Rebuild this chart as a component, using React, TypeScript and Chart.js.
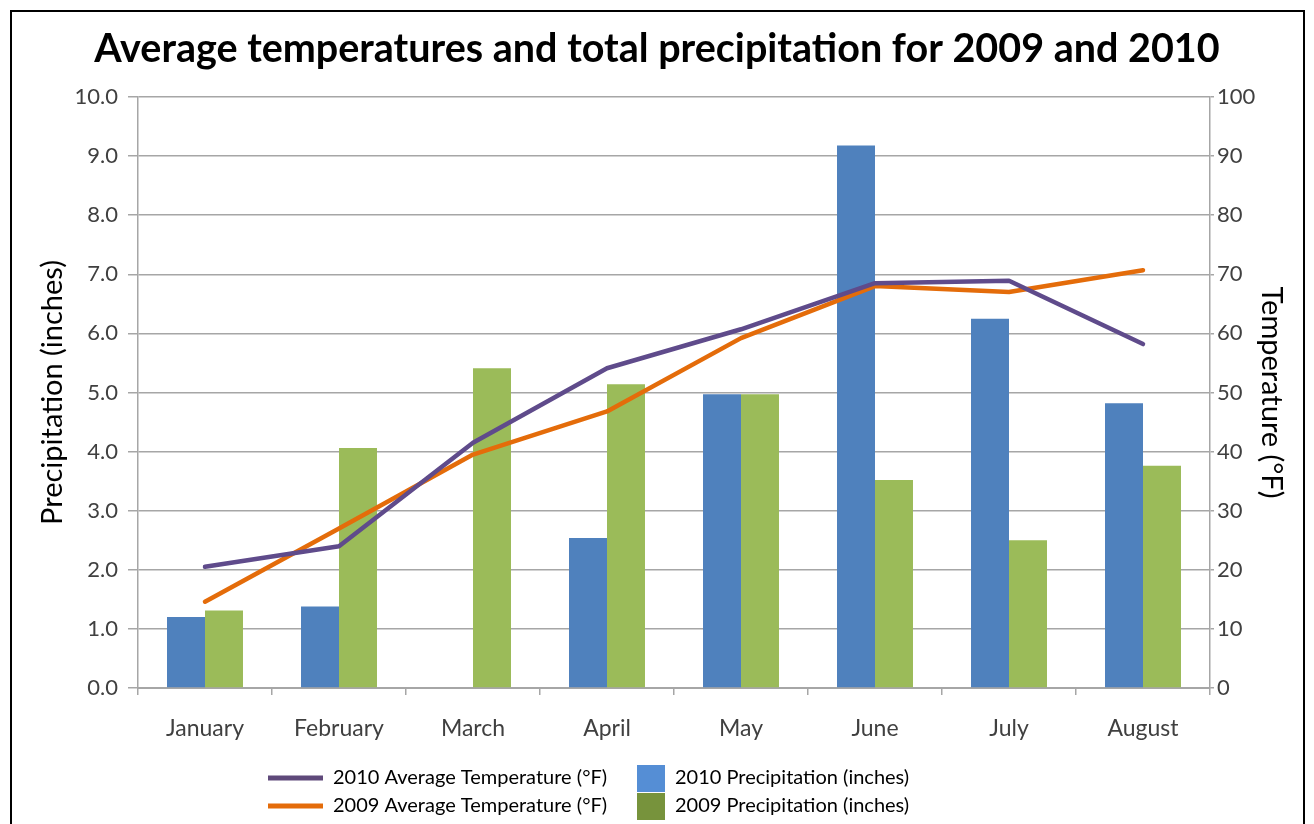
import { useEffect, useRef } from 'react';
import Chart from 'chart.js/auto';

// Months shown on the category axis
const months = ['January', 'February', 'March', 'April', 'May', 'June', 'July', 'August'];

// Total precipitation (inches), left axis
const precip2010: (number | null)[] = [1.2, 1.38, null, 2.54, 4.97, 9.18, 6.25, 4.82];
const precip2009 = [1.31, 4.06, 5.41, 5.14, 4.97, 3.52, 2.5, 3.76];

// Average temperature (°F), right axis
const temp2010 = [20.5, 24.0, 41.5, 54.1, 60.7, 68.5, 68.9, 58.2];
const temp2009 = [14.6, 27.0, 39.5, 46.8, 59.2, 68.0, 67.0, 70.7];

// Axis ranges and tick steps
const precipTicks = { min: 0, max: 10, step: 1 };
const tempTicks = { min: 0, max: 100, step: 10 };

const FONT = 'Lato';
const GRID = '#a6a6a6';

// Legend swatches: two line entries on the left column, two boxes on the right
const legendEntries = [
  { label: '2010 Average Temperature (°F)', kind: 'line', color: '#5f497a' },
  { label: '2009 Average Temperature (°F)', kind: 'line', color: '#e46c0a' },
  { label: '2010 Precipitation (inches)', kind: 'box', color: '#558ed5' },
  { label: '2009 Precipitation (inches)', kind: 'box', color: '#77933c' },
];

const legendPlugin = {
  id: 'twoColumnLegend',
  afterDraw(chart: Chart) {
    const ctx = chart.ctx;
    ctx.save();
    ctx.font = `20px ${FONT}`;
    ctx.textBaseline = 'middle';
    ctx.textAlign = 'left';
    const rows = [778, 806];
    legendEntries.forEach((e, i) => {
      const row = rows[i % 2];
      if (e.kind === 'line') {
        ctx.strokeStyle = e.color;
        ctx.lineWidth = 5;
        ctx.beginPath();
        ctx.moveTo(268, row);
        ctx.lineTo(323, row);
        ctx.stroke();
        ctx.fillStyle = '#000';
        ctx.fillText(e.label, 333, row);
      } else {
        ctx.fillStyle = e.color;
        ctx.fillRect(637, row - 13, 28, 27);
        ctx.fillStyle = '#000';
        ctx.fillText(e.label, 675, row);
      }
    });
    ctx.restore();
  },
};

export default function App() {
  const canvasRef = useRef<HTMLCanvasElement>(null);

  useEffect(() => {
    const canvas = canvasRef.current;
    if (!canvas) return;
    const chart = new Chart(canvas, {
      type: 'bar',
      data: {
        labels: months,
        datasets: [
          {
            type: 'line',
            label: '2010 Average Temperature (°F)',
            data: temp2010,
            yAxisID: 'y1',
            borderColor: '#5f4b8b',
            borderWidth: 4.5,
            pointRadius: 0,
            tension: 0,
            borderCapStyle: 'round',
            borderJoinStyle: 'round',
            order: 0,
          },
          {
            type: 'line',
            label: '2009 Average Temperature (°F)',
            data: temp2009,
            yAxisID: 'y1',
            borderColor: '#e46c0a',
            borderWidth: 4.5,
            pointRadius: 0,
            tension: 0,
            borderCapStyle: 'round',
            borderJoinStyle: 'round',
            order: 0,
          },
          {
            type: 'bar',
            label: '2010 Precipitation (inches)',
            data: precip2010,
            yAxisID: 'y',
            backgroundColor: '#4f81bd',
            barPercentage: 1,
            categoryPercentage: 0.567,
            order: 1,
          },
          {
            type: 'bar',
            label: '2009 Precipitation (inches)',
            data: precip2009,
            yAxisID: 'y',
            backgroundColor: '#9bbb59',
            barPercentage: 1,
            categoryPercentage: 0.567,
            order: 1,
          },
        ],
      },
      options: {
        responsive: false,
        animation: false,
        devicePixelRatio: 1,
        layout: { padding: { left: 0, right: 0, top: 0, bottom: 76 } },
        plugins: {
          legend: { display: false },
          tooltip: { enabled: false },
          title: {
            display: true,
            text: 'Average temperatures and total precipitation for 2009 and 2010',
            color: '#000',
            font: { family: FONT, size: 39.5, weight: 'bold', lineHeight: 1.2 },
            padding: { top: 26, bottom: 23.6 },
          },
        },
        scales: {
          x: {
            offset: true,
            grid: {
              offset: true,
              drawOnChartArea: false,
              drawTicks: true,
              tickLength: 7,
              color: GRID,
              lineWidth: 1.5,
            },
            border: { color: GRID, width: 2 },
            ticks: { color: '#404040', font: { family: FONT, size: 23 }, padding: 20 },
            afterFit: (s: any) => {
              s.height = 60;
            },
          },
          y: {
            position: 'left',
            min: precipTicks.min,
            max: precipTicks.max,
            ticks: {
              stepSize: precipTicks.step,
              color: '#404040',
              font: { family: FONT, size: 22 },
              padding: 10,
              callback: (v: any) => Number(v).toFixed(1),
            },
            grid: { color: GRID, lineWidth: 1.5, tickLength: 10 },
            border: { color: GRID, width: 1.5 },
            title: {
              display: true,
              text: 'Precipitation (inches)',
              color: '#000',
              font: { family: FONT, size: 29, lineHeight: 1.2 },
              padding: { top: 35, bottom: 0 },
            },
            afterFit: (s: any) => {
              s.width = 138;
            },
          },
          y1: {
            position: 'right',
            min: tempTicks.min,
            max: tempTicks.max,
            ticks: {
              stepSize: tempTicks.step,
              color: '#404040',
              font: { family: FONT, size: 22 },
              padding: 3,
            },
            grid: { drawOnChartArea: false, color: GRID, lineWidth: 1.5, tickLength: 4 },
            border: { color: GRID, width: 1.5 },
            title: {
              display: true,
              text: 'Temperature (°F)',
              color: '#000',
              font: { family: FONT, size: 29, lineHeight: 1.2 },
              padding: { top: 25, bottom: 0 },
            },
            afterFit: (s: any) => {
              s.width = 104;
            },
          },
        },
      },
      plugins: [legendPlugin],
    });
    return () => chart.destroy();
  }, []);

  return (
    <div
      style={{
        position: 'fixed',
        left: 0,
        top: 0,
        width: 1314,
        height: 824,
        background: '#fff',
        overflow: 'hidden',
      }}
    >
      <canvas ref={canvasRef} width={1314} height={824} style={{ position: 'absolute', left: 0, top: 0 }} />
      <div
        style={{
          position: 'absolute',
          left: 10,
          top: 10,
          width: 1295,
          height: 840,
          border: '2px solid #000',
          boxSizing: 'border-box',
          pointerEvents: 'none',
        }}
      />
    </div>
  );
}
